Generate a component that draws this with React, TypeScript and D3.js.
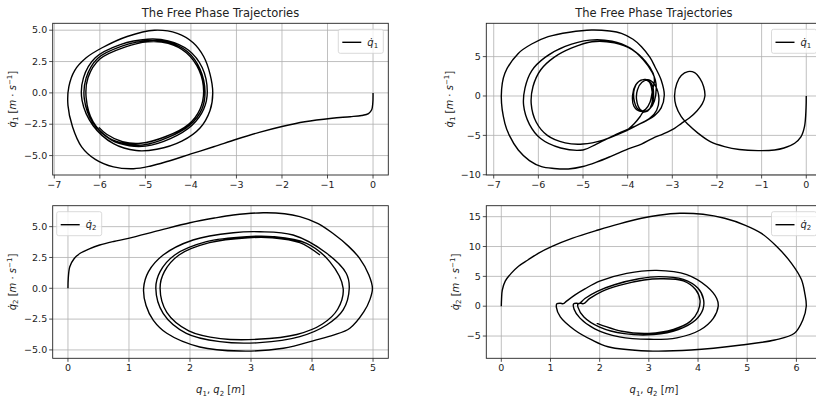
import React from 'react';
import * as d3 from 'd3';

const W = 816;
const H = 402;

// trajectories, [position, velocity]
const caseA_q1: [number, number][] = [
  [0, 0], [-0.005, -0.8], [-0.03, -1.35], [-0.1, -1.65], [-0.25, -1.8], [-0.5, -1.9],
  [-0.9, -2.02], [-1.5, -2.3], [-2.0, -2.68], [-2.5, -3.15], [-3.0, -3.7], [-3.5, -4.3],
  [-4.0, -4.87], [-4.5, -5.45], [-4.9, -5.85], [-5.26, -6.05], [-5.7, -5.9], [-6.1, -5.3],
  [-6.4, -4.3], [-6.6, -2.7], [-6.7, -1.0], [-6.68, 0.5], [-6.55, 1.8], [-6.3, 2.8],
  [-5.95, 3.6], [-5.4, 4.5], [-4.8, 5.0], [-4.3, 4.75], [-3.95, 4.0], [-3.72, 2.9],
  [-3.58, 1.5], [-3.52, 0], [-3.58, -1.4], [-3.8, -2.8], [-4.2, -3.85], [-4.75, -4.5],
  [-5.2, -4.6], [-5.7, -4.05], [-6.15, -2.6], [-6.39, -0.6], [-6.36, 1.2], [-6.1, 2.8],
  [-5.55, 3.85], [-4.95, 4.28], [-4.5, 4.15], [-4.05, 3.4], [-3.75, 2.0], [-3.64, 0.1],
  [-3.72, -1.3], [-3.98, -2.6], [-4.45, -3.65], [-5.0, -4.25], [-5.35, -4.22], [-5.75, -3.75],
  [-6.15, -2.4], [-6.34, -0.5], [-6.3, 1.2], [-6.05, 2.75], [-5.5, 3.75], [-4.95, 4.17],
  [-4.5, 4.05], [-4.08, 3.3], [-3.8, 1.9], [-3.69, 0.1], [-3.76, -1.3], [-4.02, -2.55],
  [-4.5, -3.55], [-5.05, -4.15], [-5.4, -4.08], [-5.8, -3.6], [-6.15, -2.3], [-6.3, -0.4],
  [-6.26, 1.2], [-6.0, 2.7], [-5.45, 3.65], [-4.95, 4.07], [-4.5, 3.95], [-4.1, 3.2],
  [-3.82, 1.8], [-3.72, 0.1], [-3.8, -1.3], [-4.05, -2.5], [-4.55, -3.48], [-5.1, -4.02],
  [-5.5, -3.9], [-5.85, -3.3], [-6.02, -2.75],
];

const caseA_q2: [number, number][] = [
  [0, 0], [0.005, 0.8], [0.03, 1.75], [0.1, 2.4], [0.2, 2.84], [0.35, 3.2], [0.52, 3.51],
  [0.75, 3.8], [0.99, 4.05], [1.5, 4.7], [2.0, 5.32], [2.4, 5.7], [2.71, 5.94], [3.2, 6.13],
  [3.55, 6.05], [3.8, 5.81], [4.1, 5.25], [4.34, 4.46], [4.6, 3.4], [4.78, 2.43], [4.93, 1.1],
  [4.99, 0], [4.95, -0.9], [4.85, -1.9], [4.62, -3.24], [4.35, -3.8], [4.07, -4.19],
  [3.53, -4.87], [2.82, -5.09], [2.16, -4.76], [1.62, -3.65], [1.4, -2.6], [1.28, -1.4],
  [1.24, 0], [1.32, 1.35], [1.56, 2.7], [2.05, 3.92], [2.71, 4.51], [3.14, 4.59], [3.69, 4.32],
  [4.24, 2.84], [4.56, 1.22], [4.61, 0], [4.51, -1.76], [4.24, -2.98], [3.8, -3.92],
  [3.14, -4.41], [2.49, -4.33], [1.94, -3.65], [1.56, -2.03], [1.44, 0], [1.51, 1.35],
  [1.75, 2.7], [2.27, 3.78], [2.93, 4.19], [3.36, 4.19], [3.91, 3.65], [4.29, 2.16],
  [4.51, 0], [4.42, -1.7], [4.17, -2.9], [3.75, -3.75], [3.1, -4.14], [2.5, -4.08],
  [1.98, -3.45], [1.62, -1.95], [1.51, 0], [1.58, 1.35], [1.82, 2.7], [2.32, 3.7],
  [2.95, 4.1], [3.35, 4.1], [3.8, 3.7], [4.13, 2.7],
];

const caseB_q1: [number, number][] = [
  [0, 0], [-0.005, -1.5], [-0.04, -3.9], [-0.12, -5.2], [-0.26, -6.0], [-0.5, -6.6],
  [-0.71, -6.85], [-1.08, -6.94], [-1.5, -6.8], [-1.83, -6.43], [-2.15, -5.8], [-2.42, -4.74],
  [-2.65, -3.6], [-2.8, -2.62], [-2.92, -1.2], [-2.95, 0], [-2.9, 1.6], [-2.8, 2.6],
  [-2.65, 3.1], [-2.5, 2.96], [-2.38, 2.2], [-2.3, 1.2], [-2.27, 0], [-2.33, -1.0],
  [-2.45, -1.9], [-2.62, -2.8], [-2.8, -3.5], [-2.95, -4.1], [-3.2, -4.8], [-3.44, -5.37],
  [-3.69, -6.1], [-4.0, -6.75], [-4.35, -7.6], [-4.7, -8.4], [-5.0, -8.95], [-5.33, -9.26],
  [-5.65, -9.2], [-5.93, -8.97], [-6.2, -8.2], [-6.45, -6.85], [-6.65, -5.0], [-6.75, -3.47],
  [-6.83, 0], [-6.75, 2.88], [-6.45, 5.41], [-6.15, 6.6], [-5.78, 7.53], [-5.3, 8.1],
  [-4.81, 8.38], [-4.4, 8.25], [-4.14, 7.95], [-3.88, 7.2], [-3.69, 6.26], [-3.5, 4.9],
  [-3.39, 3.72], [-3.25, 2.03], [-3.18, 0.1], [-3.25, -1.5], [-3.4, -2.5], [-3.6, -3.2],
  [-3.9, -4.0], [-4.3, -5.0], [-4.7, -6.1], [-5.0, -6.85], [-5.5, -6.6], [-5.95, -5.4],
  [-6.2, -3.6], [-6.33, -1.2], [-6.3, 1.0], [-6.15, 3.2], [-5.85, 4.9], [-5.4, 6.3],
  [-4.85, 7.1], [-4.35, 6.95], [-3.95, 6.1], [-3.65, 4.6], [-3.45, 3.0], [-3.38, 2.0],
  [-3.36, 1.0], [-3.4, -0.6], [-3.5, -1.6], [-3.63, -2.0], [-3.78, -1.6], [-3.86, -0.4],
  [-3.85, 0.9], [-3.76, 1.8], [-3.6, 2.1], [-3.46, 1.5], [-3.42, 0.2], [-3.47, -1.3],
  [-3.58, -1.95], [-3.72, -1.7], [-3.8, -0.5], [-3.78, 0.8], [-3.68, 1.75], [-3.52, 2.05],
  [-3.38, 1.3], [-3.3, -0.3], [-3.35, -1.8], [-3.5, -2.8], [-3.75, -3.6], [-4.1, -4.6],
  [-4.55, -5.6], [-5.0, -6.1], [-5.4, -5.95], [-5.8, -5.0], [-6.05, -3.3], [-6.16, -1.0],
  [-6.12, 1.2], [-5.95, 3.3], [-5.65, 4.9], [-5.25, 6.1], [-4.8, 6.89], [-4.3, 6.75],
  [-3.9, 5.9], [-3.6, 4.4], [-3.43, 2.9], [-3.4, 2.0], [-3.44, 0.8], [-3.5, -0.8],
  [-3.6, -1.7], [-3.72, -1.95], [-3.86, -1.3], [-3.89, 0.1], [-3.82, 1.4], [-3.68, 2.05],
  [-3.52, 1.8], [-3.45, 0.5], [-3.46, -1.0], [-3.55, -1.9], [-3.66, -2.1], [-3.72, -2.6],
  [-3.85, -3.5], [-3.98, -4.2],
];

const caseB_q2: [number, number][] = [
  [0, 0], [0.005, 1.2], [0.02, 2.71], [0.08, 4.2], [0.2, 5.5], [0.35, 6.7], [0.54, 7.74],
  [0.75, 8.85], [1.02, 9.98], [1.45, 11.4], [1.97, 12.77], [2.4, 13.8], [2.85, 14.73],
  [3.2, 15.25], [3.63, 15.57], [4.1, 15.4], [4.54, 14.73], [4.95, 13.6], [5.29, 12.2],
  [5.6, 10.0], [5.9, 7.19], [6.1, 4.5], [6.17, 2.16], [6.2, 0], [6.13, -2.31], [5.96, -4.54],
  [5.56, -5.66], [4.88, -6.5], [3.86, -7.34], [2.98, -7.5], [2.17, -6.79], [1.84, -5.66],
  [1.49, -3.99], [1.2, -1.8], [1.12, -0.2], [1.13, 0.4], [1.2, 0.5], [1.26, 0.42],
  [1.32, 0.8], [1.5, 1.9], [1.7, 2.9], [2.0, 4.2], [2.55, 5.5], [3.16, 6.0], [3.77, 5.3],
  [4.18, 3.3], [4.38, 1.3], [4.41, 0], [4.31, -2.03], [4.04, -3.99], [3.57, -5.3],
  [3.02, -5.55], [2.4, -5.15], [1.9, -3.8], [1.6, -2.0], [1.48, -0.5], [1.47, 0.4],
  [1.53, 0.5], [1.58, 0.42], [1.7, 1.3], [1.95, 2.5], [2.3, 3.6], [2.8, 4.6], [3.2, 4.95],
  [3.7, 4.5], [4.0, 3.0], [4.11, 1.2], [4.1, -0.5], [3.95, -2.3], [3.6, -3.9], [3.1, -4.75],
  [2.5, -4.6], [2.0, -3.5], [1.68, -1.8], [1.56, -0.2], [1.56, 0.4], [1.62, 0.5],
  [1.67, 0.42], [1.8, 1.3], [2.05, 2.5], [2.4, 3.5], [2.9, 4.4], [3.25, 4.6], [3.7, 4.25],
  [3.95, 2.8], [4.04, 1.0], [4.0, -0.8], [3.85, -2.5], [3.5, -3.9], [3.0, -4.55],
  [2.45, -4.2], [1.94, -2.87],
];

const q1TicksX = [-7, -6, -5, -4, -3, -2, -1, 0];
const q2TicksXA = [0, 1, 2, 3, 4, 5];
const q2TicksXB = [0, 1, 2, 3, 4, 5, 6];
const velTicksA = [-5, -2.5, 0, 2.5, 5];
const velTicksB1 = [-10, -5, 0, 5];
const velTicksB2 = [-5, 0, 5, 10, 15];

const TITLE = 'The Free Phase Trajectories';
const FONT = 'DejaVu Sans, sans-serif';

type Piece = { t: string; it?: boolean; sub?: boolean; sup?: boolean };

const velLabel = (n: string): Piece[] => [
  { t: 'q\u0307', it: true }, { t: n, sub: true }, { t: ' [' }, { t: 'm', it: true },
  { t: ' · ' }, { t: 's', it: true }, { t: '\u22121', sup: true }, { t: ']' },
];
const posLabel: Piece[] = [
  { t: 'q', it: true }, { t: '1', sub: true }, { t: ', ' }, { t: 'q', it: true },
  { t: '2', sub: true }, { t: ' [' }, { t: 'm', it: true }, { t: ']' },
];
const legendLabel = (n: string): Piece[] => [{ t: 'q\u0307', it: true }, { t: n, sub: true }];

const MathText = ({ pieces, size, ...rest }: any) => {
  let shift = 0;
  return (
    <text fontFamily={FONT} fontSize={size} fill="#222" {...rest}>
      {pieces.map((p: Piece, i: number) => {
        const target = p.sub ? 0.22 : p.sup ? -0.38 : 0;
        const dy = (target - shift) * size;
        shift = target;
        return (
          <tspan key={i} dy={dy} fontStyle={p.it ? 'italic' : 'normal'}
            fontSize={p.sub || p.sup ? size * 0.7 : size}>{p.t}</tspan>
        );
      })}
    </text>
  );
};

const fmtMinus = (s: string) => s.replace('-', '\u2212');

type PanelProps = {
  box: { left: number; right: number; top: number; bottom: number };
  xDomain: [number, number];
  yDomain: [number, number];
  xTicks: number[];
  yTicks: number[];
  yFmt: string;
  data: [number, number][];
  title?: boolean;
  xLabel?: boolean;
  yLabelX: number;
  legendSide: 'left' | 'right';
  idx: string;
};

const Panel = ({ box, xDomain, yDomain, xTicks, yTicks, yFmt, data, title, xLabel, yLabelX, legendSide, idx }: PanelProps) => {
  const x = d3.scaleLinear().domain(xDomain).range([box.left, box.right]);
  const y = d3.scaleLinear().domain(yDomain).range([box.bottom, box.top]);
  const line = d3.line<[number, number]>()
    .x(d => x(d[0]))
    .y(d => y(d[1]))
    .curve(d3.curveCatmullRom.alpha(0.5));
  const fy = d3.format(yFmt);
  const tick = 3.5;
  const cx = (box.left + box.right) / 2;
  const cy = (box.top + box.bottom) / 2;
  const clipId = `clip-${idx}`;

  const lgW = 45;
  const lgH = 24;
  const lgX = legendSide === 'right' ? box.right - 5 - lgW : box.left + 4;
  const lgY = box.top + 6;

  return (
    <g>
      <defs>
        <clipPath id={clipId}>
          <rect x={box.left} y={box.top} width={box.right - box.left} height={box.bottom - box.top} />
        </clipPath>
      </defs>
      <rect x={box.left} y={box.top} width={box.right - box.left} height={box.bottom - box.top} fill="#fff" />
      <g stroke="#b0b0b0" strokeWidth={0.8}>
        {xTicks.map(t => <line key={'gx' + t} x1={x(t)} x2={x(t)} y1={box.top} y2={box.bottom} />)}
        {yTicks.map(t => <line key={'gy' + t} x1={box.left} x2={box.right} y1={y(t)} y2={y(t)} />)}
      </g>
      <path d={line(data) || ''} fill="none" stroke="#000" strokeWidth={1.4} clipPath={`url(#${clipId})`} />
      <rect x={box.left} y={box.top} width={box.right - box.left} height={box.bottom - box.top}
        fill="none" stroke="#222" strokeWidth={0.9} />
      <g stroke="#222" strokeWidth={0.8}>
        {xTicks.map(t => <line key={'tx' + t} x1={x(t)} x2={x(t)} y1={box.bottom} y2={box.bottom + tick} />)}
        {yTicks.map(t => <line key={'ty' + t} x1={box.left - tick} x2={box.left} y1={y(t)} y2={y(t)} />)}
      </g>
      <g fontFamily={FONT} fontSize={9.5} fill="#222">
        {xTicks.map(t => (
          <text key={'lx' + t} x={x(t)} y={box.bottom + tick + 2} dy="0.76em" textAnchor="middle">
            {fmtMinus(String(t))}
          </text>
        ))}
        {yTicks.map(t => (
          <text key={'ly' + t} x={box.left - tick - 2} y={y(t)} dy="0.34em" textAnchor="end">
            {fmtMinus(fy(t))}
          </text>
        ))}
      </g>
      {title && (
        <text x={cx} y={box.top - 6} textAnchor="middle" fontFamily={FONT} fontSize={11.5} fill="#222">
          {TITLE}
        </text>
      )}
      <MathText pieces={velLabel(idx.endsWith('1') ? '1' : '2')} size={10} textAnchor="middle"
        transform={`translate(${yLabelX},${cy}) rotate(-90)`} />
      {xLabel && (
        <MathText pieces={posLabel} size={10} textAnchor="middle" x={cx} y={box.bottom + 35} />
      )}
      <g>
        <rect x={lgX} y={lgY} width={lgW} height={lgH} rx={2} fill="#fff" fillOpacity={0.8}
          stroke="#d0d0d0" strokeWidth={0.8} />
        <line x1={lgX + 4} x2={lgX + 23} y1={lgY + lgH / 2 + 1} y2={lgY + lgH / 2 + 1} stroke="#000" strokeWidth={1.4} />
        <MathText pieces={legendLabel(idx.endsWith('1') ? '1' : '2')} size={10}
          x={lgX + 29} y={lgY + lgH / 2 + 4.5} />
      </g>
    </g>
  );
};

const App = () => {
  const topBox = { top: 23.3, bottom: 175 };
  const botBox = { top: 205.7, bottom: 358.3 };
  const leftCol = { left: 52.7, right: 388.3 };
  const rightCol = { left: 486.3, right: 821.5 };
  return (
    <svg width={W} height={H} style={{ position: 'absolute', left: 0, top: 0, background: '#fff' }}>
      <Panel idx="A1" box={{ ...leftCol, ...topBox }} xDomain={[-7.035, 0.335]} yDomain={[-6.55, 5.55]}
        xTicks={q1TicksX} yTicks={velTicksA} yFmt=".1f" data={caseA_q1} title yLabelX={16} legendSide="right" />
      <Panel idx="B1" box={{ ...rightCol, ...topBox }} xDomain={[-7.166, 0.341]} yDomain={[-10.03, 9.23]}
        xTicks={q1TicksX} yTicks={velTicksB1} yFmt="d" data={caseB_q1} title yLabelX={453} legendSide="right" />
      <Panel idx="A2" box={{ ...leftCol, ...botBox }} xDomain={[-0.25, 5.25]} yDomain={[-5.68, 6.7]}
        xTicks={q2TicksXA} yTicks={velTicksA} yFmt=".1f" data={caseA_q2} xLabel yLabelX={16} legendSide="left" />
      <Panel idx="B2" box={{ ...rightCol, ...botBox }} xDomain={[-0.305, 6.51]} yDomain={[-8.73, 16.84]}
        xTicks={q2TicksXB} yTicks={velTicksB2} yFmt="d" data={caseB_q2} xLabel yLabelX={459} legendSide="right" />
    </svg>
  );
};

export default App;
